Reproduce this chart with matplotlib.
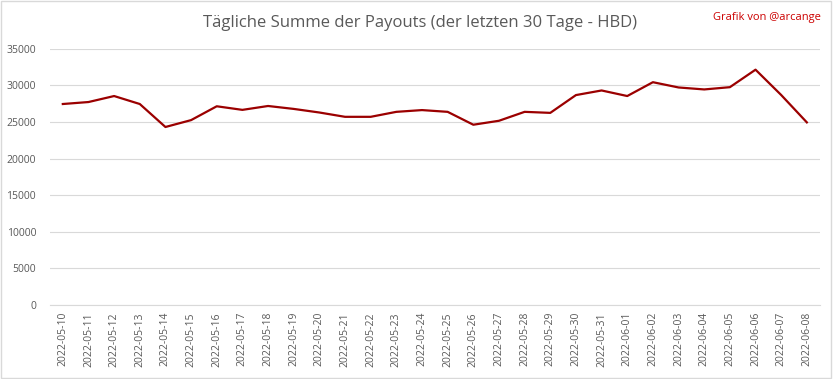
import matplotlib
matplotlib.use("Agg")
import matplotlib.pyplot as plt
import numpy as np

dates = ["2022-05-10", "2022-05-11", "2022-05-12", "2022-05-13", "2022-05-14",
         "2022-05-15", "2022-05-16", "2022-05-17", "2022-05-18", "2022-05-19",
         "2022-05-20", "2022-05-21", "2022-05-22", "2022-05-23", "2022-05-24",
         "2022-05-25", "2022-05-26", "2022-05-27", "2022-05-28", "2022-05-29",
         "2022-05-30", "2022-05-31", "2022-06-01", "2022-06-02", "2022-06-03",
         "2022-06-04", "2022-06-05", "2022-06-06", "2022-06-07", "2022-06-08"]
payouts = [27470, 27740, 28560, 27470, 24330, 25270, 27160, 26670, 27200, 26800,
           26310, 25720, 25720, 26400, 26640, 26400, 24640, 25180, 26400, 26260,
           28690, 29320, 28560, 30450, 29730, 29460, 29770, 32160, 28700, 24960]
yticks = [0, 5000, 10000, 15000, 20000, 25000, 30000, 35000]

plt.rcParams['font.family'] = ['Open Sans', 'DejaVu Sans']

fig = plt.figure(figsize=(8.33, 3.79), dpi=100)
ax = fig.add_axes([0.060, 0.195, 0.924, 0.676])

x = np.arange(len(dates))
ax.plot(x, payouts, color="#9b0000", lw=1.6)

ax.set_xlim(-0.5, len(dates) - 0.5)
ax.set_ylim(0, 35000)
ax.set_yticks(yticks)
ax.set_yticklabels([str(v) for v in yticks])
ax.set_xticks(x)
ax.set_xticklabels(dates, rotation=90)
ax.tick_params(axis="both", length=0, labelsize=7.5, colors="#595959")
ax.tick_params(axis="y", pad=10)
ax.tick_params(axis="x", pad=5)
ax.grid(axis="y", color="#d9d9d9", lw=0.8)
ax.set_axisbelow(True)
for s in ["top", "right", "left"]:
    ax.spines[s].set_visible(False)
ax.spines["bottom"].set_color("#d9d9d9")

fig.text(0.504, 0.94, "Tägliche Summe der Payouts (der letzten 30 Tage - HBD)",
         ha="center", va="center", fontsize=12, color="#595959")
fig.text(0.985, 0.955, "Grafik von @arcange", ha="right", va="center",
         fontsize=8, color="#cc0000")

fig.patches.append(plt.Rectangle((0.001, 0.002), 0.997, 0.995, transform=fig.transFigure,
                                 fill=False, edgecolor="#d9d9d9", lw=1))

fig.savefig("out.png", dpi=100)
